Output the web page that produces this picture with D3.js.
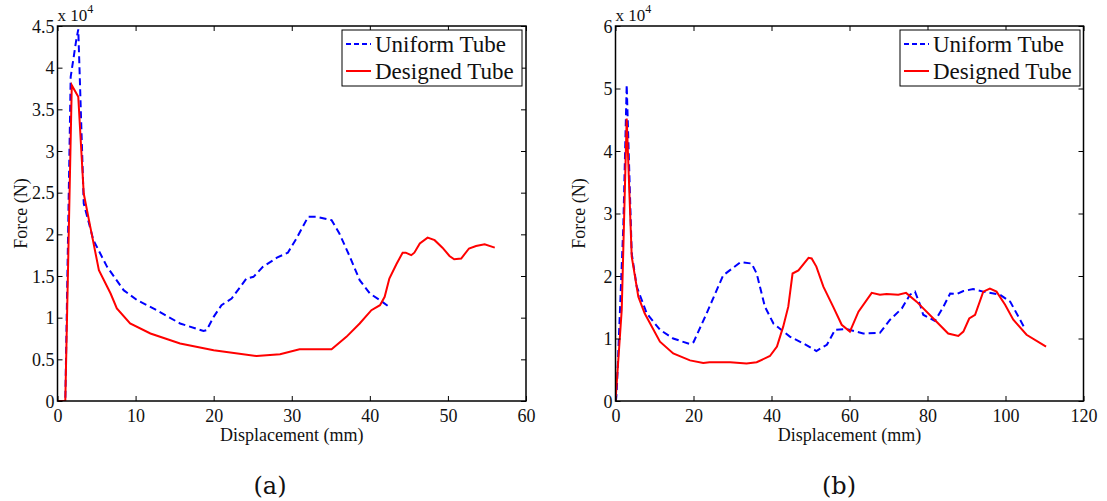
<!DOCTYPE html>
<html>
<head>
<meta charset="utf-8">
<script src="https://cdn.jsdelivr.net/npm/d3@7"></script>
<style>
  body { margin: 0; background: #fff; }
  .axis-frame { fill: none; stroke: #000; stroke-width: 1.5; }
</style>
</head>
<body>
<div id="chart"></div>
<script>
// ---- data: [displacement (mm), force (x 10^4 N)] ----
const uniformTubeA = [
  [0, 0], [1.0, 0], [1.69, 3.89], [2.4, 4.33], [2.66, 4.46], [3.36, 2.37], [4.6, 1.93],
  [6.35, 1.61], [8.47, 1.33], [10.2, 1.21], [12.7, 1.09], [15.7, 0.93], [18.7, 0.84],
  [19.1, 0.85], [20.0, 1.01], [21.0, 1.15], [22.3, 1.23], [24.2, 1.47], [25.1, 1.49],
  [26.3, 1.61], [28.1, 1.72], [29.5, 1.78], [30.6, 1.95], [32.1, 2.21], [33.2, 2.21],
  [35.1, 2.17], [36.1, 2.01], [37.4, 1.74], [38.7, 1.45], [40.0, 1.29], [41.3, 1.21], [42.6, 1.12]
];
const designedTubeA = [
  [0, 0], [1.0, 0], [1.83, 3.79], [2.66, 3.65], [3.36, 2.49], [4.2, 2.09], [5.3, 1.57],
  [6.8, 1.29], [7.6, 1.11], [9.3, 0.93], [11.9, 0.81], [15.7, 0.69], [20.0, 0.61],
  [25.5, 0.54], [28.5, 0.56], [31.0, 0.62], [35.1, 0.62], [37.0, 0.77], [38.7, 0.93],
  [40.2, 1.09], [41.3, 1.15], [41.9, 1.25], [42.5, 1.47], [43.4, 1.64], [44.2, 1.78],
  [44.6, 1.78], [45.3, 1.75], [45.7, 1.78], [46.4, 1.89], [47.4, 1.96], [48.3, 1.93],
  [49.3, 1.84], [50.2, 1.74], [50.8, 1.70], [51.7, 1.71], [52.7, 1.83], [53.6, 1.86],
  [54.7, 1.88], [56.0, 1.84]
];
const uniformTubeB = [
  [0.1, 0], [0.3, 0.13], [2.0, 2.79], [2.87, 5.06], [4.16, 2.36], [5.45, 1.83], [8.02, 1.40],
  [11.4, 1.14], [14.8, 1.00], [19.1, 0.91], [20.0, 0.94], [23.35, 1.40], [27.6, 2.01],
  [32.0, 2.22], [34.9, 2.20], [36.2, 2.04], [38.3, 1.51], [40.5, 1.24], [44.7, 1.03],
  [48.2, 0.92], [51.5, 0.80], [54.2, 0.90], [56.3, 1.14], [59.3, 1.15], [63.5, 1.08],
  [67.8, 1.09], [70.4, 1.30], [73.4, 1.48], [75.5, 1.70], [76.8, 1.75], [78.1, 1.54],
  [78.9, 1.38], [81.9, 1.28], [84.1, 1.51], [85.8, 1.72], [87.5, 1.71], [89.2, 1.76],
  [91.7, 1.79], [94.3, 1.75], [98.6, 1.70], [101.2, 1.59], [104.7, 1.19]
];
const designedTubeB = [
  [0, 0], [1.6, 1.46], [2.87, 4.52], [4.16, 2.31], [5.85, 1.67], [7.5, 1.40], [11.4, 0.95],
  [14.8, 0.76], [19.1, 0.65], [22.5, 0.61], [24.1, 0.62], [29.4, 0.62], [33.6, 0.60],
  [36.2, 0.62], [39.6, 0.72], [41.4, 0.87], [43.0, 1.19], [44.3, 1.51], [45.4, 2.04],
  [46.9, 2.09], [49.5, 2.29], [50.3, 2.28], [51.5, 2.15], [53.3, 1.83], [55.8, 1.51],
  [58.0, 1.22], [60.1, 1.11], [62.3, 1.43], [65.7, 1.73], [67.8, 1.70], [69.5, 1.71],
  [72.5, 1.70], [74.5, 1.73], [77.2, 1.59], [81.5, 1.32], [85.3, 1.08], [87.9, 1.04],
  [89.2, 1.11], [90.7, 1.32], [92.2, 1.38], [94.3, 1.75], [96.0, 1.80], [97.7, 1.75],
  [99.9, 1.54], [102.0, 1.30], [105.4, 1.06], [110.4, 0.87]
];

const xTicksA = [0, 10, 20, 30, 40, 50, 60];
const yTicksA = [0, 0.5, 1, 1.5, 2, 2.5, 3, 3.5, 4, 4.5];
const xTicksB = [0, 20, 40, 60, 80, 100, 120];
const yTicksB = [0, 1, 2, 3, 4, 5, 6];
const seriesNames = ['Uniform Tube', 'Designed Tube'];
const panelLabels = ['(a)', '(b)'];

const SERIF = '"Liberation Serif"';

const svg = d3.select('#chart').append('svg')
    .attr('width', 1107)
    .attr('height', 501);

function drawPanel(cfg) {
  const x = d3.scaleLinear().domain(cfg.xDomain).range([cfg.left, cfg.right]);
  const y = d3.scaleLinear().domain(cfg.yDomain).range([401, 26]);
  const g = svg.append('g');

  const line = d3.line().x(d => x(d[0])).y(d => y(d[1]));

  // curves (clipped to the axes box)
  const clipId = 'clip' + cfg.id;
  g.append('clipPath').attr('id', clipId)
    .append('rect')
    .attr('x', cfg.left).attr('y', 26)
    .attr('width', cfg.right - cfg.left).attr('height', 401 - 26);

  g.append('path')
    .datum(cfg.uniform)
    .attr('clip-path', `url(#${clipId})`)
    .attr('d', line)
    .attr('fill', 'none')
    .attr('stroke', '#0000ff')
    .attr('stroke-width', 2)
    .attr('stroke-dasharray', '7,4');

  g.append('path')
    .datum(cfg.designed)
    .attr('clip-path', `url(#${clipId})`)
    .attr('d', line)
    .attr('fill', 'none')
    .attr('stroke', '#ff0000')
    .attr('stroke-width', 2);

  // inward ticks on all four sides
  const xAxisB = d3.axisBottom(x).tickValues(cfg.xTicks).tickSize(-5).tickPadding(8).tickFormat(d3.format('d'));
  const xAxisT = d3.axisTop(x).tickValues(cfg.xTicks).tickSize(-5).tickFormat('');
  const yAxisL = d3.axisLeft(y).tickValues(cfg.yTicks).tickSize(-5).tickPadding(3).tickFormat(d => d);
  const yAxisR = d3.axisRight(y).tickValues(cfg.yTicks).tickSize(-5).tickFormat('');

  const axes = [
    g.append('g').attr('transform', 'translate(0,401)').call(xAxisB),
    g.append('g').attr('transform', 'translate(0,26)').call(xAxisT),
    g.append('g').attr('transform', `translate(${cfg.left},0)`).call(yAxisL),
    g.append('g').attr('transform', `translate(${cfg.right},0)`).call(yAxisR)
  ];
  axes.forEach(a => {
    a.attr('font-family', null).attr('font-size', null);
    a.select('.domain').remove();
    a.selectAll('.tick line').attr('stroke', '#000').attr('stroke-width', 1);
    a.selectAll('.tick text')
      .style('font-family', SERIF)
      .style('font-size', '18px')
      .attr('fill', '#111');
  });
  axes[0].selectAll('.tick text').attr('dy', '0.72em');
  axes[2].selectAll('.tick text').attr('dy', '0.34em');

  g.append('rect')
    .attr('class', 'axis-frame')
    .attr('x', cfg.left).attr('y', 26)
    .attr('width', cfg.right - cfg.left).attr('height', 401 - 26);

  // exponent label
  const ex = g.append('text')
    .attr('x', cfg.left)
    .attr('y', 21)
    .style('font-family', SERIF)
    .style('font-size', '17px')
    .attr('fill', '#111');
  ex.append('tspan').text('x 10');
  ex.append('tspan').attr('dy', -8).style('font-size', '12px').text('4');

  // axis titles
  g.append('text')
    .attr('x', (cfg.left + cfg.right) / 2)
    .attr('y', 441)
    .attr('text-anchor', 'middle')
    .style('font-family', SERIF)
    .style('font-size', '18px')
    .attr('fill', '#111')
    .text('Displacement (mm)');

  g.append('text')
    .attr('transform', `translate(${cfg.left - 31},${(26 + 401) / 2}) rotate(-90)`)
    .attr('text-anchor', 'middle')
    .style('font-family', SERIF)
    .style('font-size', '18px')
    .attr('fill', '#111')
    .text('Force (N)');

  // legend
  const lg = g.append('g');
  lg.append('rect')
    .attr('x', cfg.legendX).attr('y', 30)
    .attr('width', 180).attr('height', 56)
    .attr('fill', '#fff')
    .attr('stroke', '#000')
    .attr('stroke-width', 1);
  lg.append('line')
    .attr('x1', cfg.legendX + 4).attr('x2', cfg.legendX + 29)
    .attr('y1', 44).attr('y2', 44)
    .attr('stroke', '#0000ff').attr('stroke-width', 2).attr('stroke-dasharray', '5,3');
  lg.append('line')
    .attr('x1', cfg.legendX + 4).attr('x2', cfg.legendX + 29)
    .attr('y1', 71).attr('y2', 71)
    .attr('stroke', '#ff0000').attr('stroke-width', 2);
  lg.selectAll('.legend-text')
    .data(seriesNames)
    .join('text')
    .attr('class', 'legend-text')
    .attr('x', cfg.legendX + 33)
    .attr('y', (d, i) => 52 + i * 27)
    .style('font-family', SERIF)
    .style('font-size', '23px')
    .attr('fill', '#111')
    .text(d => d);

  // panel caption
  g.append('text')
    .attr('x', cfg.captionX)
    .attr('y', 494)
    .attr('text-anchor', 'middle')
    .style('font-family', '"DejaVu Serif"')
    .style('font-size', '24px')
    .attr('fill', '#111')
    .text(cfg.caption);
}

drawPanel({
  id: 'a', left: 57.5, right: 526, xDomain: [0, 60], yDomain: [0, 4.5],
  xTicks: xTicksA, yTicks: yTicksA,
  uniform: uniformTubeA, designed: designedTubeA,
  legendX: 342, captionX: 270, caption: panelLabels[0]
});
drawPanel({
  id: 'b', left: 615.5, right: 1083.5, xDomain: [0, 120], yDomain: [0, 6],
  xTicks: xTicksB, yTicks: yTicksB,
  uniform: uniformTubeB, designed: designedTubeB,
  legendX: 900, captionX: 839, caption: panelLabels[1]
});
</script>
</body>
</html>
